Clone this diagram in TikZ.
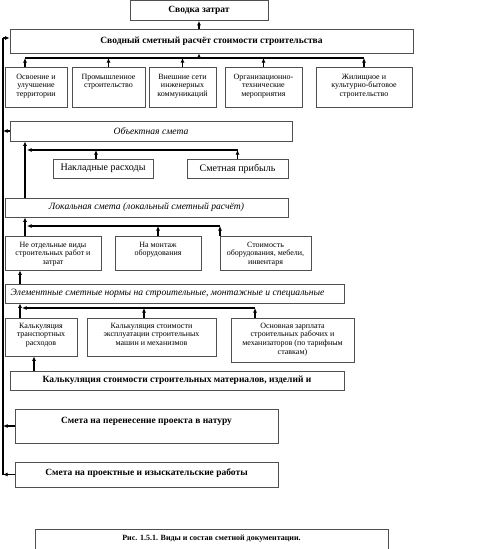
\documentclass[tikz,border=0pt]{standalone}
\usepackage{fontspec}
\setmainfont{Liberation Serif}
\usepackage{tikz}
\usetikzlibrary{arrows.meta,calc}
\definecolor{figline}{RGB}{80,80,80}
\newcommand{\tbox}[4]{\parbox[c][#2pt][t]{#1pt}{\centering\vspace*{#3pt}#4}}
\tikzset{
  bx/.style ={draw=figline, line width=0.8pt, fill=white, inner sep=0pt, align=center},
  tt/.style ={font=\bfseries\fontsize{9.5}{11}\selectfont},
  ct/.style ={font=\bfseries\fontsize{8}{9}\selectfont},
  it/.style ={font=\itshape\fontsize{9.6}{11}\selectfont},
  rg/.style ={font=\fontsize{10}{12}\selectfont},
  sm/.style ={font=\fontsize{8}{8.6}\selectfont},
  ln/.style ={draw=black, line width=1.1pt},
  arr/.style={draw=black, line width=1.1pt, -{Latex[length=4.5pt,width=4pt]}},
}
\begin{document}
\begin{tikzpicture}[x=1pt,y=-1pt]
  \useasboundingbox (0,0) rectangle (480,549);
  \node[bx,tt,minimum width=138pt,minimum height=20pt] (svodka) at (199,10.5) {Сводка затрат};
  \node[bx,tt,minimum width=403pt,minimum height=24pt] (svodny) at (211.5,41) {Сводный сметный расчёт стоимости строительства};
  \node[bx,sm] (c1) at (36,87) {\tbox{62}{40}{7}{Освоение и\\улучшение\\территории}};
  \node[bx,sm] (c2) at (108.5,87) {\tbox{73}{40}{7}{Промышленное\\строительство}};
  \node[bx,sm] (c3) at (182.5,87) {\tbox{67}{40}{7}{Внешние сети\\инженерных\\коммуникаций}};
  \node[bx,sm] (c4) at (263.5,87) {\tbox{77}{40}{7}{Организационно-\\технические\\мероприятия}};
  \node[bx,sm] (c5) at (364,87) {\tbox{96}{40}{7}{Жилищное и\\культурно-бытовое\\строительство}};
  \node[bx,it,minimum width=282pt,minimum height=20pt] (obj) at (151,131) {Объектная смета};
  \node[bx,rg,minimum width=100pt,minimum height=19pt] (nakl) at (103,168.5) {Накладные расходы};
  \node[bx,rg,minimum width=101pt,minimum height=19pt] (prib) at (237.5,168.5) {Сметная прибыль};
  \node[bx,it,minimum width=283pt,minimum height=19pt] (lok) at (146.5,207.5) {Локальная смета (локальный сметный расчёт)};
  \node[bx,sm] (r3a) at (53,253) {\tbox{96}{34}{6}{Не отдельные виды\\строительных работ и\\затрат}};
  \node[bx,sm] (r3b) at (158,253) {\tbox{86}{34}{6}{На монтаж\\оборудования}};
  \node[bx,sm] (r3c) at (265.5,253) {\tbox{91}{34}{6}{Стоимость\\оборудования, мебели,\\инвентаря}};
  \node[bx,it,minimum width=339pt,minimum height=19pt] (elem) at (174.5,293.5) {\hspace*{-14pt}Элементные сметные нормы на строительные, монтажные и специальные};
  \node[bx,sm] (r4a) at (41,337) {\tbox{72}{38}{5}{Калькуляция\\транспортных\\расходов}};
  \node[bx,sm] (r4b) at (151.5,337) {\tbox{129}{38}{5}{Калькуляция стоимости\\эксплуатации строительных\\машин и механизмов}};
  \node[bx,sm] (r4c) at (292.5,340) {\tbox{123}{44}{5}{Основная зарплата\\строительных рабочих и\\механизаторов (по тарифным\\ставкам)}};
  \node[bx,tt,minimum width=334pt,minimum height=19pt] (mat) at (177,380.5) {Калькуляция стоимости строительных материалов, изделий и};
  \node[bx,tt] (nat) at (146.5,426) {\tbox{263}{34}{8}{Смета на перенесение проекта в натуру}};
  \node[bx,tt] (proj) at (146.5,474.5) {\tbox{263}{25}{6.5}{Смета на проектные и изыскательские работы}};
  \node[bx,ct] (cap) at (211.5,540) {\tbox{353}{22}{6}{Рис. 1.5.1. Виды и состав сметной документации.}};

  \coordinate (sp) at (3,38);
  \coordinate (b1) at (0,58);
  \coordinate (b2) at (0,150);
  \coordinate (b3) at (0,226);
  \coordinate (b4) at (0,308);
  \coordinate (c1t) at ([xshift=-11pt]c1.north);
  \coordinate (naklt) at ([xshift=-7pt]nakl.north);
  \coordinate (lokt) at ([xshift=-121.5pt]lok.north);
  \coordinate (r3at) at ([xshift=-28pt]r3a.north);
  \coordinate (r3ct) at ([xshift=-45.5pt]r3c.north);
  \coordinate (elemt) at ([xshift=-154.5pt]elem.north);
  \coordinate (r4bt) at ([xshift=-7.5pt]r4b.north);
  \coordinate (r4ct) at ([xshift=-37.5pt]r4c.north);
  \coordinate (matt) at ([xshift=-143pt]mat.north);

  \draw[ln] (sp) -- (sp |- proj.west);
  \draw[arr] (sp) -- (sp -| svodny.west);
  \draw[arr] (obj.west) -- (obj.west -| sp);
  \draw[arr] (nat.west) -- (nat.west -| sp);
  \draw[arr] (proj.west) -- (proj.west -| sp);

  \draw[arr] (svodny.north -| svodka.south) -- (svodka.south);
  \draw[ln] (c1t |- b1) -- (c5.north |- b1);
  \draw[arr] (svodny.south -| svodka.south) ++(0,5) -- (svodny.south -| svodka.south);
  \draw[arr] (c1t) -- (c1t |- b1);
  \draw[arr] (c2.north) -- (c2.north |- b1);
  \draw[arr] (c3.north) -- (c3.north |- b1);
  \draw[arr] (c4.north) -- (c4.north |- b1);
  \draw[arr] (c5.north) -- (c5.north |- b1);

  \draw[arr] (lokt) -- (lokt |- obj.south);
  \draw[arr] (prib.north |- b2) -- ([xshift=2pt]lokt |- b2);
  \draw[arr] (naklt) -- (naklt |- b2);
  \draw[arr] (prib.north) -- (prib.north |- b2);

  \draw[arr] (r3at) -- (r3at |- lok.south);
  \draw[arr] (r3ct |- b3) -- ([xshift=2pt]r3at |- b3);
  \draw[arr] (r3b.north) -- (r3b.north |- b3);
  \draw[arr] (r3ct) -- (r3ct |- b3);

  \draw[arr] (elemt) -- (elemt |- r3a.south);
  \draw[arr] (r4a.north -| elemt) -- (elemt |- elem.south);
  \draw[arr] (r4ct |- b4) -- ([xshift=2pt]elemt |- b4);
  \draw[arr] (r4bt) -- (r4bt |- b4);
  \draw[arr] (r4ct) -- (r4ct |- b4);

  \draw[arr] (matt) -- (matt |- r4a.south);
\end{tikzpicture}
\end{document}
